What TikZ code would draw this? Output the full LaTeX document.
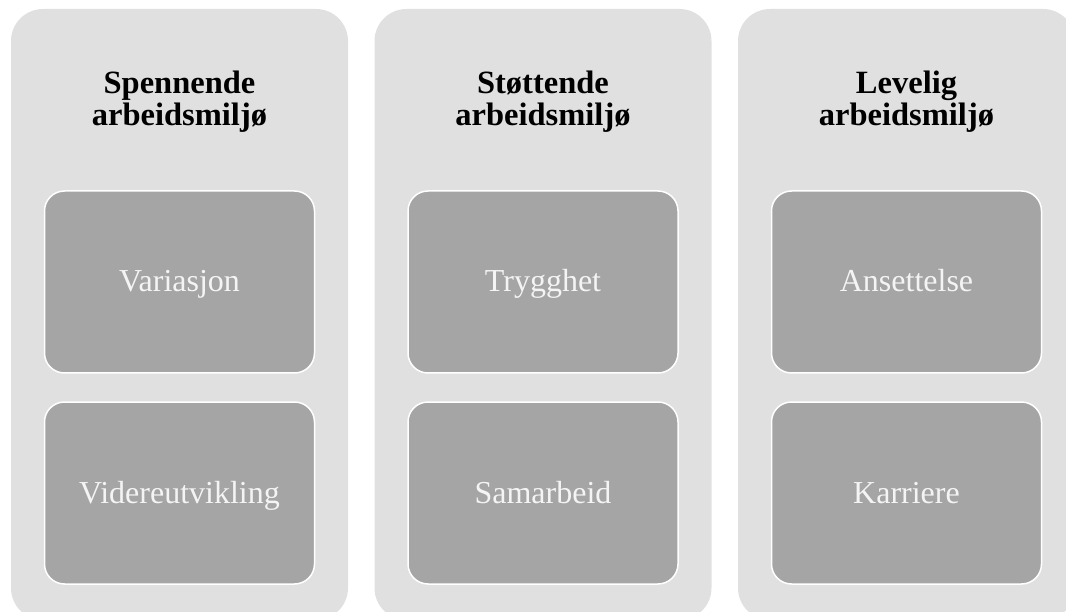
\documentclass[tikz,border=0pt]{standalone}
\usepackage{fontspec}
\setmainfont{Liberation Serif}
\usetikzlibrary{positioning}

\definecolor{panelgray}{HTML}{E0E0E0}
\definecolor{cellgray}{HTML}{A5A5A5}
\definecolor{celltext}{HTML}{F4F4F4}

\begin{document}
\begin{tikzpicture}[x=1pt,y=-1pt,
  panel/.style={rectangle,fill=panelgray,rounded corners=32pt,
    minimum width=337pt,minimum height=611pt,inner sep=0pt,outer sep=0pt},
  heading/.style={align=center,inner sep=0pt,
    font=\fontsize{32.5}{32}\selectfont\bfseries},
  cell/.style={rectangle,fill=cellgray,draw=white,line width=1.5pt,
    rounded corners=20pt,minimum width=270pt,minimum height=182pt,
    inner sep=0pt,outer sep=0pt,text height=22pt,text depth=2pt,
    text=celltext,font=\fontsize{32}{36}\selectfont}]

  \useasboundingbox (0,0) rectangle (1066,612);
  \clip (0,0) rectangle (1066,612);

  % three panels
  \node [panel] (spennende) at (179.5,314.5) {};
  \node [panel] (stottende) at (543,314.5)   {};
  \node [panel] (levelig)   at (906.5,314.5) {};

  \node [heading] (spennendeT) at ([yshift=-93pt]spennende.north) {Spennende\\arbeidsmiljø};
  \node [heading] (stottendeT) at ([yshift=-93pt]stottende.north) {Støttende\\arbeidsmiljø};
  \node [heading] (leveligT)   at ([yshift=-93pt]levelig.north)   {Levelig\\arbeidsmiljø};

  % cells
  \node [cell] (variasjon)  [below=182pt of spennende.north] {Variasjon};
  \node [cell] (videre)     [below=29pt of variasjon]        {Videreutvikling};
  \node [cell] (trygghet)   [below=182pt of stottende.north] {Trygghet};
  \node [cell] (samarbeid)  [below=29pt of trygghet]         {Samarbeid};
  \node [cell] (ansettelse) [below=182pt of levelig.north]   {Ansettelse};
  \node [cell] (karriere)   [below=29pt of ansettelse]       {Karriere};

\end{tikzpicture}
\end{document}
